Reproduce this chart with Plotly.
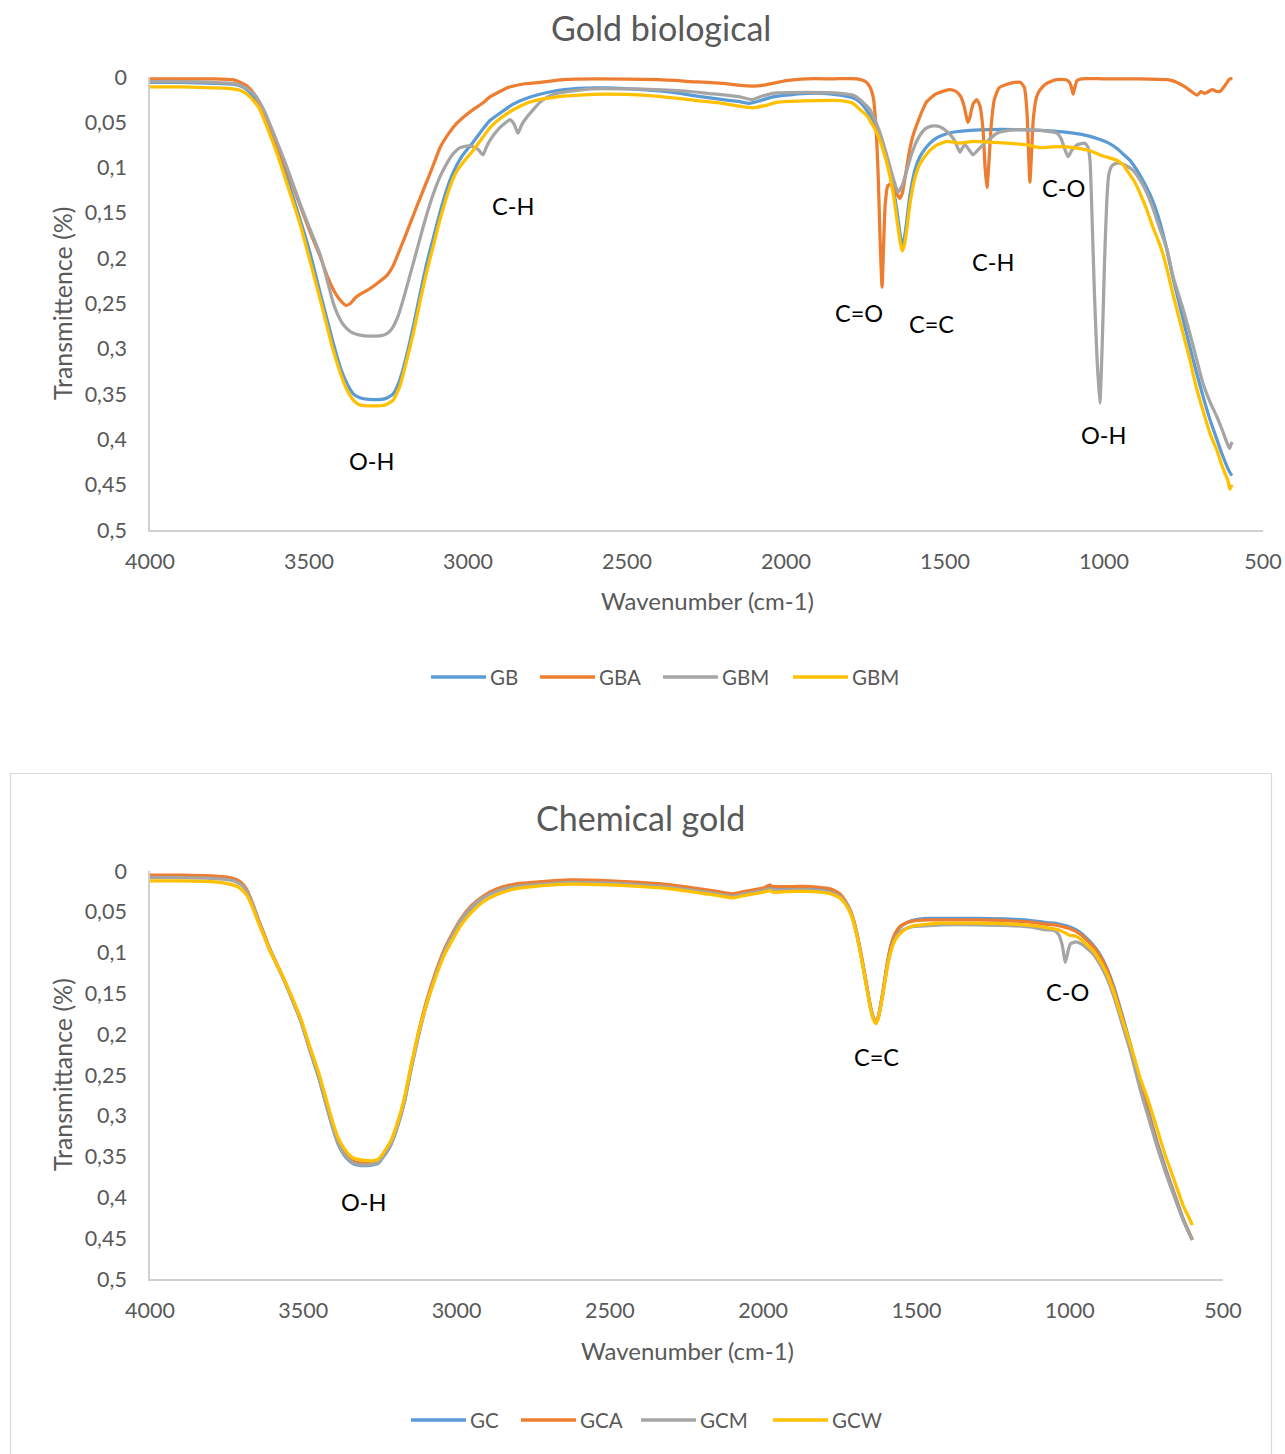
import plotly.graph_objects as go

# ---------------- Gold biological (top panel) ----------------
GB_WN = [4000, 3900, 3800, 3740, 3715, 3695, 3670, 3640, 3600, 3569,
         3530, 3500, 3460, 3425, 3400, 3381, 3360, 3340, 3300, 3260,
         3236, 3215, 3192, 3170, 3151, 3130, 3113, 3090, 3072, 3050,
         3020, 2984, 2950, 2931, 2900, 2858, 2820, 2774, 2720, 2670,
         2600, 2563, 2450, 2355, 2280, 2198, 2150, 2113, 2080, 2041,
         2000, 1934, 1880, 1830, 1790, 1767, 1740, 1714, 1690, 1673,
         1660, 1651, 1642, 1635, 1628, 1620, 1610, 1595, 1579, 1560,
         1547, 1525, 1506, 1475, 1420, 1358, 1280, 1201, 1150, 1097,
         1050, 1013, 985, 959, 940, 918, 898, 878, 855, 833,
         808, 783, 755, 730, 710, 689, 665, 645, 630, 613,
         605, 598]
GB_T = [0.006, 0.006, 0.007, 0.008, 0.010, 0.014, 0.024, 0.045, 0.080, 0.112,
        0.155, 0.190, 0.245, 0.292, 0.322, 0.338, 0.350, 0.354, 0.356, 0.355,
        0.350, 0.335, 0.306, 0.272, 0.240, 0.206, 0.183, 0.152, 0.130, 0.108,
        0.088, 0.072, 0.056, 0.048, 0.040, 0.030, 0.024, 0.019, 0.015, 0.013,
        0.012, 0.012, 0.014, 0.017, 0.021, 0.025, 0.027, 0.029, 0.026, 0.022,
        0.020, 0.018, 0.018, 0.020, 0.023, 0.028, 0.040, 0.056, 0.080, 0.103,
        0.128, 0.148, 0.172, 0.185, 0.178, 0.158, 0.130, 0.103, 0.088, 0.078,
        0.073, 0.067, 0.064, 0.061, 0.059, 0.058, 0.058, 0.059, 0.060, 0.062,
        0.065, 0.069, 0.073, 0.079, 0.085, 0.092, 0.102, 0.114, 0.130, 0.150,
        0.182, 0.222, 0.262, 0.298, 0.325, 0.352, 0.380, 0.400, 0.415, 0.430,
        0.436, 0.440]

GBA_WN = [4000, 3900, 3800, 3740, 3715, 3695, 3670, 3640, 3600, 3569,
          3530, 3500, 3465, 3440, 3415, 3395, 3384, 3370, 3355, 3340,
          3310, 3286, 3255, 3235, 3223, 3200, 3180, 3160, 3135, 3110,
          3088, 3060, 3035, 3010, 2984, 2955, 2931, 2900, 2877, 2830,
          2774, 2700, 2600, 2400, 2300, 2200, 2150, 2104, 2070, 2041,
          2000, 1934, 1850, 1777, 1750, 1736, 1726, 1718, 1710, 1704,
          1698, 1693, 1688, 1680, 1670, 1660, 1650, 1642, 1634, 1625,
          1612, 1600, 1588, 1570, 1557, 1530, 1500, 1484, 1465, 1450,
          1440, 1432, 1428, 1422, 1412, 1400, 1390, 1380, 1374, 1368,
          1362, 1355, 1345, 1330, 1305, 1280, 1262, 1250, 1242, 1237,
          1233, 1228, 1222, 1212, 1201, 1180, 1150, 1120, 1108, 1102,
          1097, 1092, 1085, 1070, 1000, 900, 800, 770, 745, 725,
          707, 695, 685, 676, 660, 645, 635, 625, 615, 604,
          596]
GBA_T = [0.002, 0.002, 0.002, 0.003, 0.006, 0.010, 0.020, 0.040, 0.075, 0.103,
         0.140, 0.168, 0.198, 0.222, 0.240, 0.249, 0.252, 0.250, 0.244, 0.240,
         0.234, 0.228, 0.219, 0.208, 0.198, 0.178, 0.160, 0.142, 0.120, 0.098,
         0.078, 0.062, 0.051, 0.043, 0.036, 0.029, 0.022, 0.016, 0.012, 0.008,
         0.006, 0.003, 0.002, 0.003, 0.005, 0.007, 0.009, 0.010, 0.009, 0.007,
         0.004, 0.002, 0.002, 0.002, 0.005, 0.011, 0.022, 0.050, 0.110, 0.180,
         0.232, 0.185, 0.140, 0.120, 0.118, 0.122, 0.130, 0.134, 0.128, 0.110,
         0.082, 0.064, 0.052, 0.036, 0.027, 0.019, 0.015, 0.014, 0.016, 0.022,
         0.032, 0.045, 0.050, 0.045, 0.030, 0.025, 0.032, 0.060, 0.100, 0.122,
         0.095, 0.055, 0.025, 0.012, 0.008, 0.006, 0.006, 0.012, 0.040, 0.085,
         0.116, 0.085, 0.045, 0.022, 0.014, 0.007, 0.003, 0.003, 0.006, 0.012,
         0.019, 0.012, 0.004, 0.002, 0.002, 0.002, 0.003, 0.006, 0.011, 0.016,
         0.020, 0.016, 0.018, 0.017, 0.014, 0.016, 0.016, 0.012, 0.007, 0.002,
         0.002]

GBM_WN = [4000, 3900, 3800, 3740, 3715, 3695, 3670, 3640, 3600, 3569,
          3530, 3500, 3465, 3440, 3425, 3410, 3393, 3370, 3340, 3300,
          3267, 3250, 3236, 3220, 3204, 3185, 3160, 3135, 3110, 3088,
          3066, 3045, 3025, 3000, 2984, 2968, 2953, 2943, 2931, 2900,
          2880, 2868, 2855, 2843, 2830, 2814, 2790, 2774, 2750, 2720,
          2616, 2500, 2406, 2300, 2248, 2145, 2107, 2075, 2041, 1934,
          1830, 1790, 1767, 1736, 1715, 1704, 1690, 1673, 1660, 1648,
          1635, 1620, 1605, 1588, 1570, 1557, 1535, 1516, 1491, 1470,
          1453, 1445, 1437, 1425, 1412, 1395, 1368, 1337, 1300, 1255,
          1200, 1148, 1135, 1125, 1113, 1100, 1085, 1060, 1050, 1044,
          1038, 1030, 1022, 1013, 1006, 998, 991, 985, 975, 960,
          950, 930, 909, 888, 865, 845, 824, 802, 783, 755,
          730, 710, 689, 665, 645, 630, 613, 605, 600, 596]
GBM_T = [0.005, 0.005, 0.006, 0.007, 0.009, 0.013, 0.020, 0.038, 0.072, 0.100,
         0.138, 0.165, 0.196, 0.228, 0.248, 0.262, 0.273, 0.281, 0.285, 0.286,
         0.285, 0.282, 0.276, 0.264, 0.246, 0.222, 0.190, 0.158, 0.130, 0.110,
         0.095, 0.084, 0.078, 0.076, 0.077, 0.080, 0.086, 0.078, 0.070, 0.056,
         0.050, 0.047, 0.052, 0.062, 0.052, 0.044, 0.034, 0.028, 0.022, 0.018,
         0.013, 0.013, 0.014, 0.016, 0.018, 0.022, 0.025, 0.021, 0.018, 0.017,
         0.018, 0.020, 0.025, 0.036, 0.052, 0.062, 0.078, 0.099, 0.115, 0.127,
         0.120, 0.103, 0.085, 0.070, 0.060, 0.056, 0.054, 0.055, 0.061, 0.070,
         0.083, 0.078, 0.075, 0.080, 0.086, 0.080, 0.071, 0.062, 0.059, 0.058,
         0.059, 0.062, 0.068, 0.078, 0.088, 0.080, 0.075, 0.073, 0.078, 0.092,
         0.150, 0.240, 0.310, 0.360, 0.300, 0.200, 0.135, 0.108, 0.098, 0.095,
         0.095, 0.098, 0.103, 0.113, 0.128, 0.146, 0.168, 0.190, 0.220, 0.252,
         0.283, 0.310, 0.338, 0.360, 0.375, 0.388, 0.404, 0.410, 0.405, 0.403]

GBW_WN = [4000, 3900, 3800, 3740, 3715, 3695, 3670, 3654, 3640, 3600,
          3569, 3530, 3506, 3460, 3425, 3400, 3381, 3360, 3340, 3300,
          3260, 3236, 3215, 3192, 3170, 3151, 3130, 3113, 3090, 3072,
          3050, 3035, 3010, 2984, 2950, 2931, 2900, 2846, 2800, 2720,
          2650, 2563, 2450, 2355, 2280, 2198, 2150, 2104, 2060, 2030,
          1987, 1900, 1830, 1790, 1767, 1745, 1714, 1690, 1673, 1660,
          1651, 1642, 1635, 1628, 1620, 1610, 1595, 1579, 1560, 1547,
          1525, 1494, 1470, 1453, 1430, 1412, 1360, 1305, 1242, 1201,
          1160, 1116, 1075, 1040, 1013, 985, 959, 940, 928, 905,
          887, 866, 846, 830, 814, 800, 783, 755, 730, 713,
          689, 665, 645, 630, 620, 610, 604, 598]
GBW_T = [0.011, 0.011, 0.012, 0.013, 0.015, 0.019, 0.028, 0.036, 0.048, 0.085,
         0.118, 0.160, 0.191, 0.252, 0.300, 0.328, 0.345, 0.357, 0.362, 0.363,
         0.362, 0.357, 0.342, 0.312, 0.280, 0.248, 0.215, 0.192, 0.160, 0.138,
         0.115, 0.104, 0.092, 0.081, 0.065, 0.056, 0.046, 0.034, 0.027, 0.022,
         0.020, 0.019, 0.020, 0.023, 0.026, 0.029, 0.032, 0.034, 0.031, 0.028,
         0.027, 0.026, 0.026, 0.029, 0.036, 0.043, 0.062, 0.086, 0.110, 0.135,
         0.158, 0.180, 0.192, 0.186, 0.168, 0.140, 0.112, 0.096, 0.086, 0.081,
         0.075, 0.071, 0.072, 0.073, 0.072, 0.071, 0.072, 0.073, 0.075, 0.078,
         0.077, 0.077, 0.079, 0.082, 0.086, 0.089, 0.092, 0.097, 0.103, 0.115,
         0.128, 0.146, 0.166, 0.180, 0.196, 0.215, 0.240, 0.278, 0.312, 0.338,
         0.368, 0.395, 0.412, 0.428, 0.437, 0.446, 0.455, 0.450]

# ---------------- Chemical gold (bottom panel) ----------------
CHEM_WN = [4000, 3900, 3800, 3740, 3715, 3695, 3684, 3665, 3648, 3630,
           3612, 3590, 3566, 3540, 3507, 3480, 3449, 3425, 3403, 3385,
           3367, 3350, 3335, 3312, 3290, 3270, 3255, 3240, 3215, 3194,
           3170, 3149, 3125, 3100, 3070, 3041, 3010, 2985, 2950, 2914,
           2870, 2810, 2720, 2633, 2500, 2402, 2300, 2206, 2150, 2100,
           2060, 2000, 1978, 1970, 1900, 1850, 1779, 1750, 1733, 1715,
           1700, 1683, 1666, 1650, 1640, 1632, 1624, 1609, 1595, 1583,
           1570, 1554, 1530, 1508, 1460, 1420, 1300, 1195, 1120, 1081,
           1050, 1036, 1025, 1014, 1004, 997, 980, 960, 946, 925,
           905, 880, 855, 830, 800, 770, 745, 715, 687, 660,
           630, 612, 600]
GC_T = [0.007, 0.007, 0.008, 0.010, 0.013, 0.019, 0.025, 0.041, 0.059, 0.076,
        0.094, 0.112, 0.131, 0.154, 0.185, 0.218, 0.254, 0.287, 0.316, 0.336,
        0.348, 0.355, 0.359, 0.361, 0.361, 0.360, 0.358, 0.351, 0.336, 0.315,
        0.283, 0.244, 0.203, 0.166, 0.130, 0.100, 0.077, 0.061, 0.045, 0.033,
        0.024, 0.018, 0.014, 0.012, 0.013, 0.015, 0.018, 0.023, 0.026, 0.029,
        0.026, 0.022, 0.019, 0.020, 0.020, 0.020, 0.023, 0.029, 0.037, 0.050,
        0.068, 0.098, 0.133, 0.167, 0.181, 0.186, 0.179, 0.148, 0.114, 0.092,
        0.078, 0.069, 0.063, 0.060, 0.058, 0.058, 0.058, 0.059, 0.061, 0.063,
        0.064, 0.065, 0.066, 0.067, 0.068, 0.069, 0.072, 0.077, 0.082, 0.090,
        0.100, 0.118, 0.143, 0.175, 0.215, 0.258, 0.292, 0.332, 0.365, 0.394,
        0.426, 0.442, 0.452]
GCA_T = [0.005, 0.005, 0.006, 0.008, 0.011, 0.017, 0.023, 0.040, 0.058, 0.075,
         0.093, 0.111, 0.130, 0.153, 0.184, 0.216, 0.252, 0.285, 0.313, 0.333,
         0.345, 0.352, 0.356, 0.358, 0.358, 0.357, 0.355, 0.348, 0.333, 0.312,
         0.280, 0.241, 0.199, 0.162, 0.126, 0.097, 0.074, 0.058, 0.042, 0.031,
         0.022, 0.016, 0.013, 0.011, 0.012, 0.014, 0.017, 0.022, 0.025, 0.028,
         0.025, 0.021, 0.017, 0.019, 0.019, 0.019, 0.022, 0.028, 0.036, 0.049,
         0.067, 0.097, 0.132, 0.166, 0.180, 0.185, 0.178, 0.147, 0.113, 0.091,
         0.077, 0.068, 0.063, 0.061, 0.060, 0.060, 0.060, 0.061, 0.063, 0.065,
         0.066, 0.067, 0.068, 0.069, 0.070, 0.071, 0.074, 0.079, 0.084, 0.092,
         0.102, 0.120, 0.146, 0.178, 0.218, 0.262, 0.296, 0.335, 0.368, 0.396,
         0.427, 0.442, 0.452]
GCM_T = [0.008, 0.008, 0.009, 0.011, 0.014, 0.019, 0.025, 0.041, 0.059, 0.076,
         0.094, 0.112, 0.131, 0.154, 0.185, 0.217, 0.253, 0.286, 0.315, 0.335,
         0.347, 0.354, 0.358, 0.360, 0.360, 0.359, 0.357, 0.350, 0.335, 0.314,
         0.282, 0.243, 0.202, 0.165, 0.129, 0.099, 0.076, 0.060, 0.044, 0.033,
         0.025, 0.019, 0.016, 0.014, 0.015, 0.017, 0.020, 0.025, 0.028, 0.031,
         0.028, 0.024, 0.022, 0.023, 0.023, 0.023, 0.026, 0.031, 0.038, 0.051,
         0.069, 0.099, 0.134, 0.167, 0.181, 0.186, 0.179, 0.149, 0.117, 0.096,
         0.083, 0.075, 0.070, 0.068, 0.067, 0.066, 0.066, 0.067, 0.069, 0.072,
         0.073, 0.078, 0.090, 0.112, 0.096, 0.089, 0.087, 0.090, 0.094, 0.101,
         0.112, 0.130, 0.155, 0.186, 0.224, 0.268, 0.300, 0.338, 0.370, 0.398,
         0.428, 0.443, 0.452]
GCW_T = [0.012, 0.012, 0.013, 0.016, 0.019, 0.025, 0.030, 0.045, 0.062, 0.078,
         0.095, 0.112, 0.130, 0.152, 0.182, 0.214, 0.248, 0.280, 0.309, 0.328,
         0.340, 0.348, 0.352, 0.354, 0.355, 0.355, 0.353, 0.346, 0.331, 0.310,
         0.278, 0.240, 0.200, 0.166, 0.132, 0.104, 0.082, 0.066, 0.050, 0.038,
         0.029, 0.022, 0.018, 0.016, 0.017, 0.019, 0.022, 0.027, 0.030, 0.033,
         0.030, 0.026, 0.024, 0.026, 0.025, 0.025, 0.028, 0.033, 0.040, 0.052,
         0.070, 0.100, 0.135, 0.168, 0.182, 0.187, 0.180, 0.150, 0.118, 0.098,
         0.085, 0.077, 0.070, 0.067, 0.065, 0.064, 0.064, 0.065, 0.067, 0.069,
         0.071, 0.072, 0.074, 0.076, 0.078, 0.079, 0.080, 0.085, 0.090, 0.097,
         0.108, 0.125, 0.150, 0.180, 0.215, 0.254, 0.280, 0.316, 0.350, 0.378,
         0.410, 0.424, 0.434]

TOP_NAMES = ["GB", "GBA", "GBM", "GBM"]
BOTTOM_NAMES = ["GC", "GCA", "GCM", "GCW"]
COLORS = ["#5B9BD5", "#ED7D31", "#A5A5A5", "#FFC000"]

X_TICKS = [4000, 3500, 3000, 2500, 2000, 1500, 1000, 500]
Y_TICKS = [0, 0.05, 0.1, 0.15, 0.2, 0.25, 0.3, 0.35, 0.4, 0.45, 0.5]
Y_TICK_TEXT = ["0", "0,05", "0,1", "0,15", "0,2", "0,25", "0,3", "0,35", "0,4", "0,45", "0,5"]

# Band labels: (text, wavenumber, transmittance)
TOP_BANDS = [("O-H", 3305, 0.424), ("C-H", 2858, 0.142), ("C=O", 1770, 0.260),
             ("C=C", 1544, 0.273), ("C-H", 1349, 0.204), ("C-O", 1126, 0.1225),
             ("O-H", 1003, 0.395)]
BOTTOM_BANDS = [("O-H", 3305, 0.406), ("C=C", 1629, 0.228), ("C-O", 1006, 0.148)]

W, H = 1285, 1454
FONT = "Lato"
GREY_TXT = "#595959"


def px(x):
    return x / W


def py(y):
    return 1 - y / H


fig = go.Figure()

top_series = [(GB_WN, GB_T), (GBA_WN, GBA_T), (GBM_WN, GBM_T), (GBW_WN, GBW_T)]
for (wn, t), name, col in zip(top_series, TOP_NAMES, COLORS):
    fig.add_trace(go.Scatter(x=wn, y=t, name=name, mode="lines", showlegend=False,
                             line=dict(color=col, width=3.25, shape="spline", smoothing=0.5),
                             xaxis="x", yaxis="y"))

for t, name, col in zip([GC_T, GCA_T, GCM_T, GCW_T], BOTTOM_NAMES, COLORS):
    fig.add_trace(go.Scatter(x=CHEM_WN, y=t, name=name, mode="lines", showlegend=False,
                             line=dict(color=col, width=3.25, shape="spline", smoothing=0.5),
                             xaxis="x2", yaxis="y2"))

axis_common = dict(showgrid=False, zeroline=False, showline=True, linecolor="#D0D0D0",
                   linewidth=1.5, ticks="", automargin=False,
                   tickfont=dict(family=FONT, size=21.5, color=GREY_TXT))

fig.update_layout(
    width=W, height=H, autosize=False,
    margin=dict(l=0, r=0, t=0, b=0, pad=0, autoexpand=False),
    paper_bgcolor="white", plot_bgcolor="white",
    xaxis=dict(domain=[px(150), px(1263)], range=[4000, 500], tickvals=X_TICKS,
               anchor="y", ticklabelstandoff=11, **axis_common),
    yaxis=dict(domain=[py(530), py(77)], range=[0.5, 0], tickvals=Y_TICKS,
               ticktext=Y_TICK_TEXT, anchor="x", ticklabelstandoff=17, **axis_common),
    xaxis2=dict(domain=[px(150), px(1223)], range=[4000, 500], tickvals=X_TICKS,
                anchor="y2", ticklabelstandoff=11, **axis_common),
    yaxis2=dict(domain=[py(1279), py(871)], range=[0.5, 0], tickvals=Y_TICKS,
                ticktext=Y_TICK_TEXT, anchor="x2", ticklabelstandoff=17, **axis_common),
)

ann = []
shapes = []


def label(text, x, y, size, color=GREY_TXT, angle=0, xanchor="center"):
    ann.append(dict(text=text, x=px(x), y=py(y), xref="paper", yref="paper",
                    showarrow=False, xanchor=xanchor, yanchor="middle", textangle=angle,
                    font=dict(family=FONT, size=size, color=color)))


# titles and axis titles
label("Gold biological", 661, 28, 34)
label("Chemical gold", 640, 817, 34)
label("Transmittence (%)", 62, 303, 25, angle=-90)
label("Transmittance (%)", 62, 1075, 25, angle=-90)
label("Wavenumber (cm-1)", 707, 600, 24)
label("Wavenumber (cm-1)", 687, 1350, 24)

# band assignments
for text, wn, t in TOP_BANDS:
    ann.append(dict(text=text, x=wn, y=t, xref="x", yref="y", showarrow=False,
                    font=dict(family=FONT, size=23.5, color="black")))
for text, wn, t in BOTTOM_BANDS:
    ann.append(dict(text=text, x=wn, y=t, xref="x2", yref="y2", showarrow=False,
                    font=dict(family=FONT, size=23.5, color="black")))

# legends drawn below each panel
TOP_LEG_X = [431, 540, 663, 793]
BOT_LEG_X = [411, 521, 641, 773]
for names, xs, yy in [(TOP_NAMES, TOP_LEG_X, 677), (BOTTOM_NAMES, BOT_LEG_X, 1420)]:
    for name, x0, col in zip(names, xs, COLORS):
        shapes.append(dict(type="line", xref="paper", yref="paper",
                           x0=px(x0), x1=px(x0 + 55), y0=py(yy), y1=py(yy),
                           line=dict(color=col, width=3.5)))
        label(name, x0 + 57, yy, 20.5, xanchor="left")

# frame around the lower chart
shapes.append(dict(type="rect", xref="paper", yref="paper",
                   x0=px(10.5), x1=px(1271.5), y0=py(1460), y1=py(773.5),
                   line=dict(color="#D9D9D9", width=1.2), fillcolor="rgba(0,0,0,0)"))

fig.update_layout(annotations=ann, shapes=shapes)

fig.write_html("out.html")
